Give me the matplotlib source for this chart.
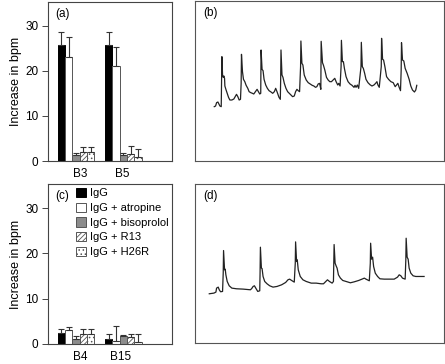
import numpy as np
import matplotlib
matplotlib.use("Agg")
import matplotlib.pyplot as plt

plt.rcParams['font.family'] = ['Liberation Sans', 'DejaVu Sans']
plt.rcParams['hatch.linewidth'] = 0.6

# bar data: mean and upper error end (increase in bpm)
treatments = ['IgG', 'IgG + atropine', 'IgG + bisoprolol', 'IgG + R13', 'IgG + H26R']
groups_a = ['B3', 'B5']
mean_a = [[25.7, 23.2, 1.4, 1.9, 2.0],
          [25.7, 21.0, 1.4, 1.6, 0.8]]
top_a = [[28.6, 27.5, 1.8, 3.0, 3.0],
         [28.6, 25.3, 1.8, 3.3, 2.7]]
groups_c = ['B4', 'B15']
mean_c = [[2.5, 3.0, 1.2, 2.2, 2.2],
          [1.0, 0.7, 1.7, 1.5, 0.5]]
top_c = [[3.4, 3.7, 1.8, 3.3, 3.3],
         [2.3, 4.0, 2.0, 2.2, 2.1]]

# ECG-like traces (x, y in picture units, y downward)
trace_b_x = [73, 77, 80, 84, 87, 90, 94,
             95, 96, 98, 100, 102, 104, 105, 108, 112, 116, 120, 126, 132, 136, 140, 144, 148, 152,
             154, 155, 158, 161, 165, 169, 174, 178, 183, 188, 192, 197, 202, 206, 210, 213,
             214, 217, 220, 223, 228, 233, 238, 244, 249, 254, 258, 262, 268, 272,
             273, 274, 277, 280, 284, 289, 294, 299, 304, 309, 314, 318, 322, 326, 330,
             333, 334, 337, 340, 344, 350, 356, 362, 368, 373, 378, 382, 386, 390, 392, 394,
             395, 399, 402, 406, 411, 416, 421, 426, 431, 436, 440, 445, 448, 452,
             455, 456, 459, 462, 465, 470, 476, 482, 488, 494, 497, 500, 504, 508,
             515, 516, 519, 522, 526, 530, 536, 542, 548, 554, 559, 563, 566, 570,
             576, 577, 580, 583, 587, 592, 598, 605, 612, 618, 622, 626, 630, 634,
             636, 637, 640, 644, 648, 654, 660, 665, 670, 676, 680, 683]
trace_b_y = [320, 318, 308, 306, 312, 318, 320,
             250, 170, 225, 232, 228, 235, 258, 268, 280, 292, 300, 300, 297, 290, 283, 290, 300, 298,
             250, 163, 215, 238, 245, 256, 265, 275, 278, 280, 282, 275, 268, 275, 282, 280,
             150, 208, 212, 238, 255, 265, 272, 276, 280, 275, 265, 275, 292, 298,
             240, 150, 225, 232, 250, 265, 275, 280, 285, 290, 288, 275, 268, 272, 275,
             200, 123, 190, 195, 225, 240, 248, 252, 256, 258, 262, 260, 252, 250, 258, 268,
             124, 188, 196, 210, 232, 240, 245, 245, 240, 235, 245, 255, 250, 258,
             200, 121, 185, 185, 205, 230, 245, 252, 256, 262, 256, 262, 255, 265,
             200, 127, 200, 205, 220, 238, 248, 254, 258, 255, 250, 245, 255, 262,
             200, 115, 178, 180, 200, 230, 238, 245, 248, 260, 255, 250, 262, 272,
             210, 128, 180, 183, 205, 220, 238, 258, 270, 276, 270, 256]

trace_d_x = [58, 72, 78, 80, 85, 88, 92, 98,
             100, 101, 104, 106, 108, 112, 118, 126, 140, 160, 182, 186, 190, 194, 198, 204, 210,
             211, 212, 215, 217, 220, 225, 232, 240, 250, 262, 276, 288, 295, 300, 306, 314,
             317, 318, 321, 323, 326, 332, 340, 350, 365, 380, 395, 402, 408, 414, 420, 428, 432,
             433, 434, 437, 440, 443, 447, 453, 460, 470, 483, 495, 508, 518, 525, 530, 540,
             543, 544, 547, 550, 553, 558, 565, 572, 585, 600, 615, 625, 630, 635, 640, 648,
             650, 651, 654, 657, 660, 665, 672, 680, 690, 705]
trace_d_y = [342, 340, 337, 325, 322, 330, 336, 335,
             280, 212, 270, 268, 285, 305, 318, 325, 327, 328, 330, 326, 320, 318, 325, 335, 333,
             280, 202, 265, 266, 290, 305, 312, 318, 322, 320, 315, 308, 300, 298, 302, 307,
             250, 186, 245, 240, 270, 290, 300, 305, 310, 310, 312, 312, 306, 300, 305, 310, 305,
             250, 194, 250, 258, 265, 285, 295, 302, 305, 309, 306, 302, 298, 295, 298, 303,
             250, 190, 238, 232, 260, 280, 290, 297, 298, 298, 298, 292, 285, 288, 295, 298,
             240, 175, 232, 238, 265, 280, 288, 290, 290, 290]

fills = ['black', 'white', '#8c8c8c', 'white', 'white']
hatches = [None, None, None, '///////', '....']
edge = '#555555'

fig = plt.figure(figsize=(4.45, 3.64), dpi=100)


def px_axes(left, top, right, bottom):
    return fig.add_axes([left / 445, 1 - bottom / 364, (right - left) / 445, (bottom - top) / 364])


def bar_panel(ax, groups, means, tops, label, tick_pos, legend=False):
    bw = 1.0
    gap = 6.5
    for g in range(len(groups)):
        for k in range(len(treatments)):
            x = g * gap + k * bw + bw / 2
            ax.bar(x, means[g][k], width=bw, color=fills[k], edgecolor=edge if k else 'black',
                   hatch=hatches[k], linewidth=0.7, label=treatments[k] if g == 0 else None)
            ax.errorbar(x, means[g][k], yerr=[[0], [tops[g][k] - means[g][k]]], fmt='none',
                        ecolor='#333333', elinewidth=0.8, capsize=2.2, capthick=0.8)
    ax.set_xlim(-1.33, 15.66)
    ax.set_ylim(0, 35.3)
    ax.set_yticks([0, 10, 20, 30])
    ax.set_xticks(tick_pos)
    ax.set_xticklabels(groups)
    ax.tick_params(axis='x', length=0, labelsize=8.5, pad=5)
    ax.tick_params(axis='y', length=4.5, width=0.7, labelsize=8.5, pad=2.5, direction='out',
                   color='#444444')
    ax.set_ylabel('Increase in bpm', fontsize=9, labelpad=2)
    for s in ax.spines.values():
        s.set_linewidth(0.8)
        s.set_color('#444444')
    ax.text(0.06, 0.96, label, transform=ax.transAxes, fontsize=8.5, va='top', ha='left')
    if legend:
        ax.legend(loc='upper left', bbox_to_anchor=(0.225, 0.975), frameon=False, fontsize=8,
                  handlelength=0.9, handleheight=0.9, handletextpad=0.35, labelspacing=0.38,
                  borderaxespad=0, borderpad=0)


def trace_panel(ax, xs, ys, label, ylim):
    ax.plot(xs, ys, color='#222222', lw=0.9)
    ax.set_xlim(15, 765)
    ax.set_ylim(*ylim)
    ax.set_xticks([])
    ax.set_yticks([])
    for s in ax.spines.values():
        s.set_linewidth(0.8)
        s.set_color('#555555')
    ax.text(0.035, 0.96, label, transform=ax.transAxes, fontsize=8.5, va='top', ha='left')


ax_a = px_axes(48, 2, 172, 161)
bar_panel(ax_a, groups_a, mean_a, top_a, '(a)', [3.05, 8.8])

ax_c = px_axes(48, 184, 172, 344)
bar_panel(ax_c, groups_c, mean_c, top_c, '(c)', [3.05, 8.6], legend=True)

ax_b = px_axes(195, 1, 444, 161)
trace_panel(ax_b, trace_b_x, trace_b_y, '(b)', (483, 3))

ax_d = px_axes(195, 184, 444, 343)
trace_panel(ax_d, trace_d_x, trace_d_y, '(d)', (490, 12))

fig.savefig('out.png', dpi=100)
